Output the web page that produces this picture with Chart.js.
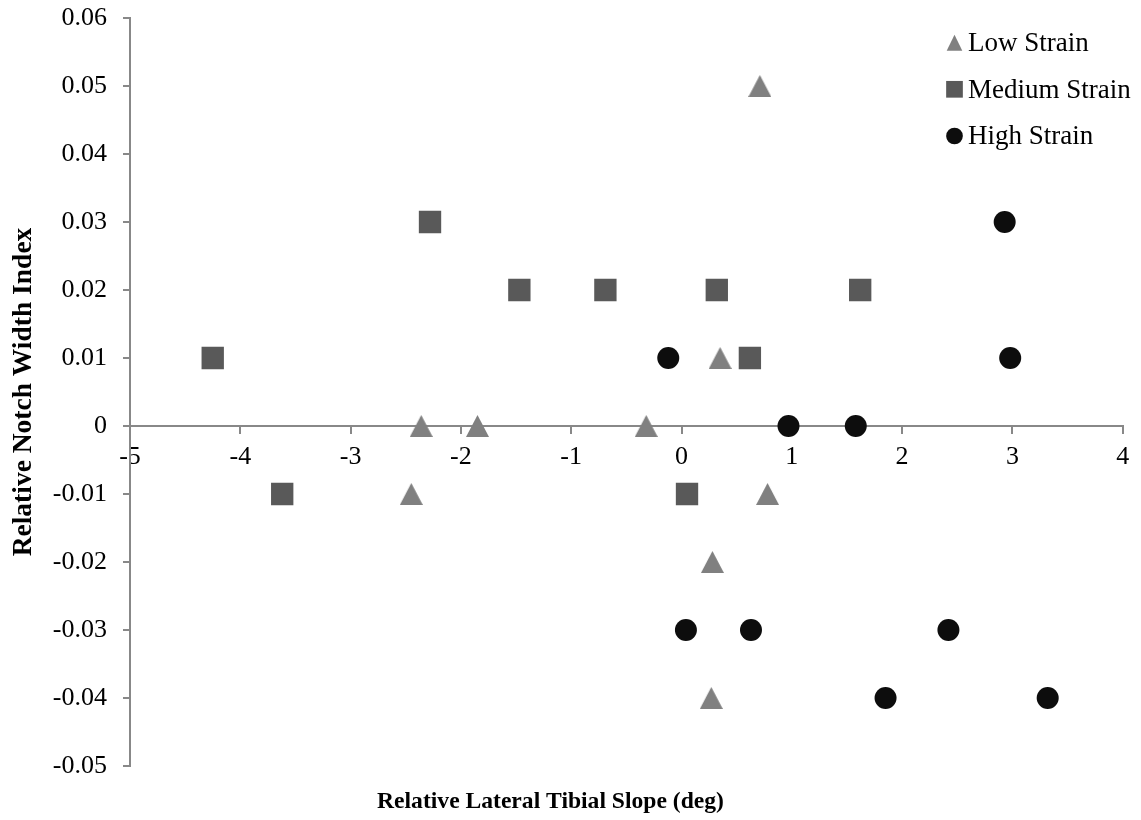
<!DOCTYPE html>
<html><head><meta charset="utf-8">
<script src="https://cdn.jsdelivr.net/npm/chart.js@4/dist/chart.umd.min.js"></script>
<style>html,body{margin:0;padding:0;background:#fff}#wrap{width:1141px;height:820px;position:relative}</style>
</head><body><div id="wrap"><canvas id="c"></canvas></div>
<script>
// ---- data ----
const seriesNames = ['Low Strain', 'Medium Strain', 'High Strain'];
const lowX  = [0.71, 0.35, -2.36, -1.85, -0.32, -2.45, 0.78, 0.28, 0.27];
const lowY  = [0.05, 0.01, 0, 0, 0, -0.01, -0.01, -0.02, -0.04];
const medX  = [-4.25, -3.62, -2.28, -1.47, -0.69, 0.32, 0.62, 1.62, 0.05];
const medY  = [0.01, -0.01, 0.03, 0.02, 0.02, 0.02, 0.01, 0.02, -0.01];
const highX = [-0.12, 0.97, 1.58, 2.93, 2.98, 0.04, 0.63, 2.42, 1.85, 3.32];
const highY = [0.01, 0, 0, 0.03, 0.01, -0.03, -0.03, -0.03, -0.04, -0.04];
const xTicks = [-5, -4, -3, -2, -1, 0, 1, 2, 3, 4];
const yTicks = [-0.05, -0.04, -0.03, -0.02, -0.01, 0, 0.01, 0.02, 0.03, 0.04, 0.05, 0.06];
const xTitle = 'Relative Lateral Tibial Slope (deg)';
const yTitle = 'Relative Notch Width Index';

// ---- styles ----
const colors = ['#808080', '#595959', '#0d0d0d'];
const axisColor = '#888888';
const FONT = '"Liberation Serif", "Times New Roman", serif';

function triImg(w, h, color) {
  const c = document.createElement('canvas');
  c.width = w; c.height = h;
  const g = c.getContext('2d');
  g.fillStyle = color;
  g.beginPath(); g.moveTo(w / 2, 0); g.lineTo(w, h); g.lineTo(0, h); g.closePath(); g.fill();
  return c;
}
const pts = (xs, ys) => xs.map((x, i) => ({ x: x, y: ys[i] }));

const extras = {
  id: 'extras',
  afterDraw(chart) {
    const ctx = chart.ctx;
    ctx.save();
    ctx.fillStyle = '#000';
    ctx.font = 'bold 23.6px ' + FONT;
    ctx.textAlign = 'center';
    ctx.textBaseline = 'middle';
    ctx.fillText(xTitle, 550.5, 802);
    // legend
    const mx = 954.5, tx = 968, rows = [42.8, 89.3, 136];
    ctx.textAlign = 'left';
    ctx.textBaseline = 'alphabetic';
    ctx.font = '27px ' + FONT;
    seriesNames.forEach((name, i) => {
      const cy = rows[i];
      ctx.fillStyle = colors[i];
      ctx.beginPath();
      if (i === 0) {
        ctx.moveTo(mx, cy - 8); ctx.lineTo(mx + 7.8, cy + 8); ctx.lineTo(mx - 7.8, cy + 8); ctx.closePath();
      } else if (i === 1) {
        ctx.rect(mx - 8.35, cy - 8.35, 16.7, 16.7);
      } else {
        ctx.arc(mx, cy, 8.35, 0, Math.PI * 2);
      }
      ctx.fill();
      ctx.fillStyle = '#000';
      ctx.fillText(name, tx, cy + 8.3);
    });
    ctx.restore();
  }
};

const tickFont = { family: FONT, size: 26 };

new Chart(document.getElementById('c'), {
  type: 'scatter',
  data: {
    datasets: [
      { label: seriesNames[0], data: pts(lowX, lowY), pointStyle: triImg(23, 22, colors[0]), radius: 12,
        backgroundColor: colors[0], borderWidth: 0 },
      { label: seriesNames[1], data: pts(medX, medY), pointStyle: 'rect', radius: 15.8,
        backgroundColor: colors[1], borderWidth: 0 },
      { label: seriesNames[2], data: pts(highX, highY), pointStyle: 'circle', radius: 11,
        backgroundColor: colors[2], borderWidth: 0 }
    ]
  },
  options: {
    responsive: true,
    maintainAspectRatio: false,
    animation: false,
    layout: { padding: { left: 0, top: 18, right: 18.3, bottom: 54 } },
    plugins: { legend: { display: false }, tooltip: { enabled: false }, title: { display: false } },
    scales: {
      x: {
        type: 'linear',
        position: { y: 0 },
        min: -5, max: 4,
        afterBuildTicks: s => { s.ticks = xTicks.map(v => ({ value: v })); },
        ticks: { font: tickFont, color: '#000', padding: 9, maxRotation: 0, autoSkip: false,
                 callback: v => String(v) },
        grid: { display: true, drawOnChartArea: false, drawTicks: true, tickLength: 7, color: axisColor, lineWidth: 2 },
        border: { display: true, color: axisColor, width: 2 },
        afterFit: s => { s.paddingLeft = 0; s.paddingRight = 0; }
      },
      y: {
        type: 'linear',
        position: 'left',
        min: -0.05, max: 0.06,
        afterBuildTicks: s => { s.ticks = yTicks.map(v => ({ value: v })); },
        ticks: { font: tickFont, color: '#000', padding: 16, autoSkip: false, callback: v => String(v) },
        grid: { display: true, drawOnChartArea: false, drawTicks: true, tickLength: 7, color: axisColor, lineWidth: 2 },
        border: { display: true, color: axisColor, width: 2 },
        title: { display: true, text: yTitle, color: '#000',
                 font: { family: FONT, size: 27.5, weight: 'bold' }, padding: { top: 7, bottom: 0 } },
        afterFit: s => { s.width = 130; s.paddingTop = 0; s.paddingBottom = 0; }
      }
    }
  },
  plugins: [extras]
});
</script>
</body></html>
